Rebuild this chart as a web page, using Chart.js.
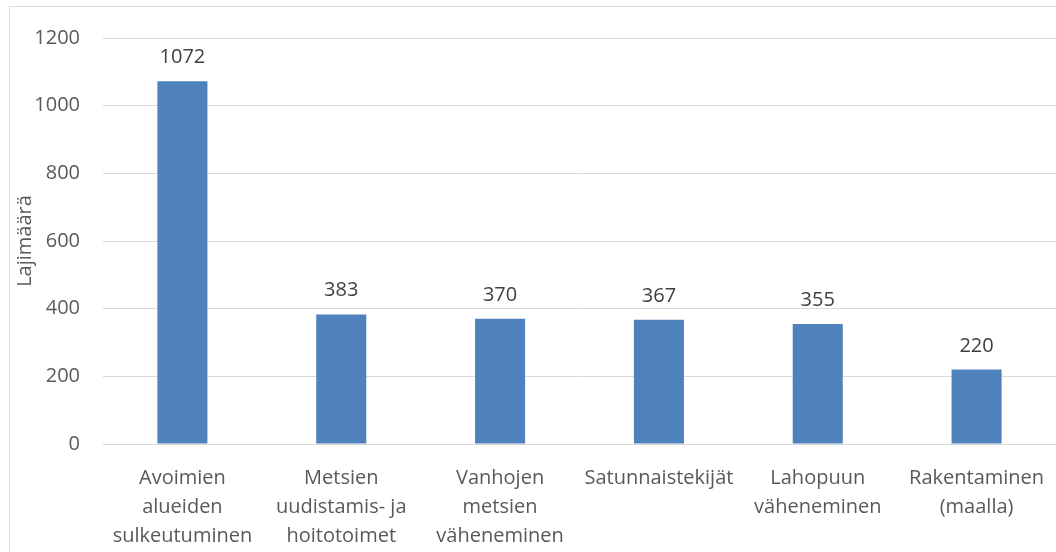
<!DOCTYPE html>
<html><head><meta charset="utf-8">
<script src="https://cdn.jsdelivr.net/npm/chart.js@4/dist/chart.umd.min.js"></script>
<style>
html,body{margin:0;padding:0;background:#fff;overflow:hidden;width:1056px;height:552px;}
#frame{position:absolute;left:9px;top:6px;width:1046px;height:545px;border:1px solid #d9d9d9;}
#c{display:block;}
</style></head><body>
<div id="frame"><canvas id="c" width="1046" height="545"></canvas></div>
<script>
const categories = [
  ["Avoimien","alueiden","sulkeutuminen"],
  ["Metsien","uudistamis- ja","hoitotoimet"],
  ["Vanhojen","metsien","väheneminen"],
  ["Satunnaistekijät"],
  ["Lahopuun","väheneminen"],
  ["Rakentaminen","(maalla)"]
];
const values = [1072, 383, 370, 367, 355, 220];
const yTicks = [0, 200, 400, 600, 800, 1000, 1200];
const yTitle = "Lajimäärä";

const FONT = "'Open Sans', 'Liberation Sans', sans-serif";

const dataLabels = {
  id: 'dataLabels',
  afterDatasetsDraw(chart) {
    const ctx = chart.ctx;
    const meta = chart.getDatasetMeta(0);
    ctx.save();
    ctx.font = "20px " + FONT;
    ctx.fillStyle = "#404040";
    ctx.textAlign = "center";
    ctx.textBaseline = "alphabetic";
    meta.data.forEach((el, i) => {
      ctx.fillText(String(values[i]), el.x, el.y - 18);
    });
    ctx.restore();
  }
};

new Chart(document.getElementById('c'), {
  type: 'bar',
  data: {
    labels: categories,
    datasets: [{
      data: values,
      backgroundColor: '#4f81bd',
      borderWidth: 0,
      categoryPercentage: 1,
      barPercentage: 0.315
    }]
  },
  options: {
    responsive: false,
    animation: false,
    devicePixelRatio: 1,
    layout: { padding: { top: 31, right: 0, left: 0, bottom: 0 } },
    plugins: { legend: { display: false }, tooltip: { enabled: false } },
    scales: {
      x: {
        grid: { display: false, drawTicks: false },
        border: { color: '#d9d9d9', width: 1 },
        ticks: {
          color: '#595959',
          font: { family: FONT, size: 20, lineHeight: 1.45 },
          padding: 20,
          maxRotation: 0,
          autoSkip: false
        },
        afterFit(s) { s.height = 108; s.paddingLeft = 0; s.paddingRight = 0; }
      },
      y: {
        min: 0, max: 1200,
        afterBuildTicks(s) { s.ticks = yTicks.map(v => ({ value: v })); },
        grid: { color: '#d9d9d9', drawTicks: false, lineWidth: 1 },
        border: { display: false },
        ticks: {
          color: '#595959',
          font: { family: FONT, size: 20 },
          padding: 23,
          callback: (v) => String(v)
        },
        title: {
          display: true,
          text: yTitle,
          color: '#595959',
          font: { family: FONT, size: 20 },
          padding: { top: 3, bottom: 0 }
        },
        afterFit(s) { s.width = 93; s.paddingTop = 0; s.paddingBottom = 0; }
      }
    }
  },
  plugins: [dataLabels]
});
</script>
</body></html>
